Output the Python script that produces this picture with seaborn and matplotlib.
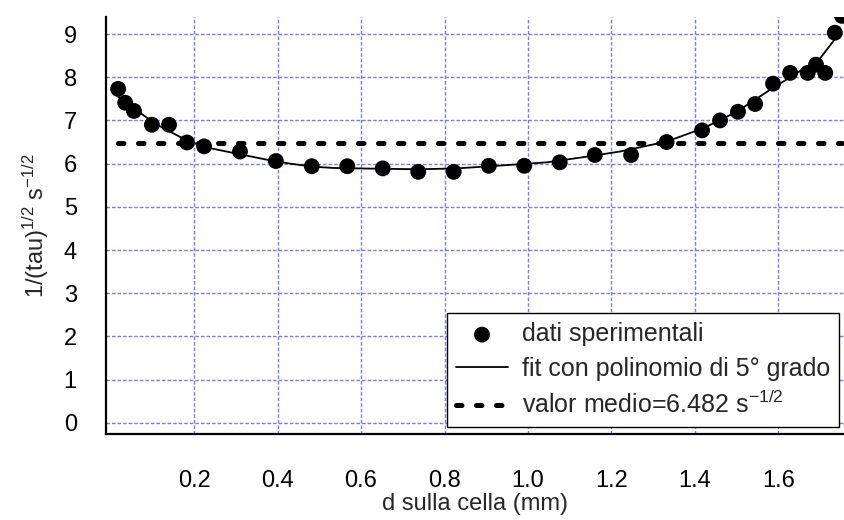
import numpy as np
import pandas as pd
import matplotlib
matplotlib.use("Agg")
import matplotlib.pyplot as plt
import seaborn as sns

# distance on the cell (mm) and measured 1/sqrt(tau) (s^-1/2)
dist = [0.018, 0.035, 0.056, 0.099, 0.140, 0.183, 0.224, 0.310, 0.396, 0.482,
        0.567, 0.652, 0.737, 0.822, 0.906, 0.991, 1.076, 1.160, 1.247, 1.332,
        1.417, 1.460, 1.503, 1.544, 1.587, 1.628, 1.670, 1.690, 1.712, 1.735, 1.752]
inv_sqrt_tau = [7.73, 7.41, 7.22, 6.90, 6.90, 6.49, 6.40, 6.28, 6.06, 5.94,
                5.94, 5.89, 5.81, 5.81, 5.95, 5.95, 6.03, 6.20, 6.20, 6.50,
                6.77, 7.00, 7.20, 7.38, 7.85, 8.10, 8.10, 8.29, 8.10, 9.03, 9.42]

# 5th degree polynomial fit
fit_x = [0.018, 0.070, 0.111, 0.166, 0.222, 0.293, 0.375, 0.430, 0.485, 0.533,
         0.650, 0.741, 0.830, 0.925, 1.045, 1.140, 1.220, 1.332, 1.420, 1.500,
         1.580, 1.643, 1.700, 1.740, 1.747]
fit_y = [7.55, 7.18, 6.90, 6.62, 6.39, 6.25, 6.09, 6.00, 5.93, 5.90,
         5.88, 5.87, 5.89, 5.95, 6.03, 6.16, 6.28, 6.51, 6.82, 7.20,
         7.71, 8.09, 8.44, 8.94, 9.06]

mean_value = 6.482

data = pd.DataFrame({"d": dist, "v": inv_sqrt_tau})
fit = pd.DataFrame({"d": fit_x, "v": fit_y})

sns.set_style("white")
plt.rcParams["font.family"] = ["Liberation Sans", "DejaVu Sans"]
plt.rcParams["mathtext.default"] = "regular"

FS = 17

fig = plt.figure(figsize=(8.44, 5.2), dpi=100)
ax = fig.add_axes([0.1256, 0.166, 0.8744, 0.801])

sns.lineplot(data=fit, x="d", y="v", ax=ax, color="black", linewidth=1.3,
             sort=False, label="fit con polinomio di 5° grado", zorder=3)
ax.plot([dist[0], dist[-1]], [mean_value, mean_value], color="black",
        linewidth=3.6, linestyle=(0, (1.1, 2.9)), dash_capstyle="round", zorder=2,
        label="valor medio=6.482 s$^{-1/2}$")
sns.scatterplot(data=data, x="d", y="v", ax=ax, color="black", s=130,
                edgecolor="none", label="dati sperimentali", zorder=4)

ax.set_xlim(-0.011, 1.757)
ax.set_ylim(-0.25, 9.39)
ax.set_xticks([0.2, 0.4, 0.6, 0.8, 1.0, 1.2, 1.4, 1.6])
ax.set_xticklabels(["0.2", "0.4", "0.6", "0.8", "1.0", "1.2", "1.4", "1.6"])
ax.set_yticks(range(0, 10))

ax.grid(True, color="#7878ff", linestyle=(0, (2.5, 1.5)), linewidth=1.0)
for side in ["top", "right"]:
    ax.spines[side].set_visible(False)
for side in ["left", "bottom"]:
    ax.spines[side].set_color("black")
    ax.spines[side].set_linewidth(1.6)

ax.tick_params(axis="both", direction="out", length=14, width=1.6,
               labelsize=FS, colors="black")
ax.tick_params(axis="x", pad=12)
ax.tick_params(axis="y", pad=7)

ax.set_xlabel("d sulla cella (mm)", fontsize=FS, labelpad=1)
ax.set_ylabel("1/(tau)$^{1/2}$ s$^{-1/2}$", fontsize=FS)
ax.yaxis.set_label_coords(-0.075, 0.5)

handles, labels = ax.get_legend_handles_labels()
order = [labels.index("dati sperimentali"),
         labels.index("fit con polinomio di 5° grado"),
         labels.index("valor medio=6.482 s$^{-1/2}$")]
leg = ax.legend([handles[i] for i in order], [labels[i] for i in order],
                loc="lower left", bbox_to_anchor=(0.462, 0.016),
                fontsize=18, frameon=True, fancybox=False, framealpha=1,
                edgecolor="black", handlelength=2.1, handletextpad=0.55,
                borderpad=0.35, labelspacing=0.42, borderaxespad=0)
leg.get_frame().set_linewidth(1.0)

fig.savefig("out.png", dpi=100)
